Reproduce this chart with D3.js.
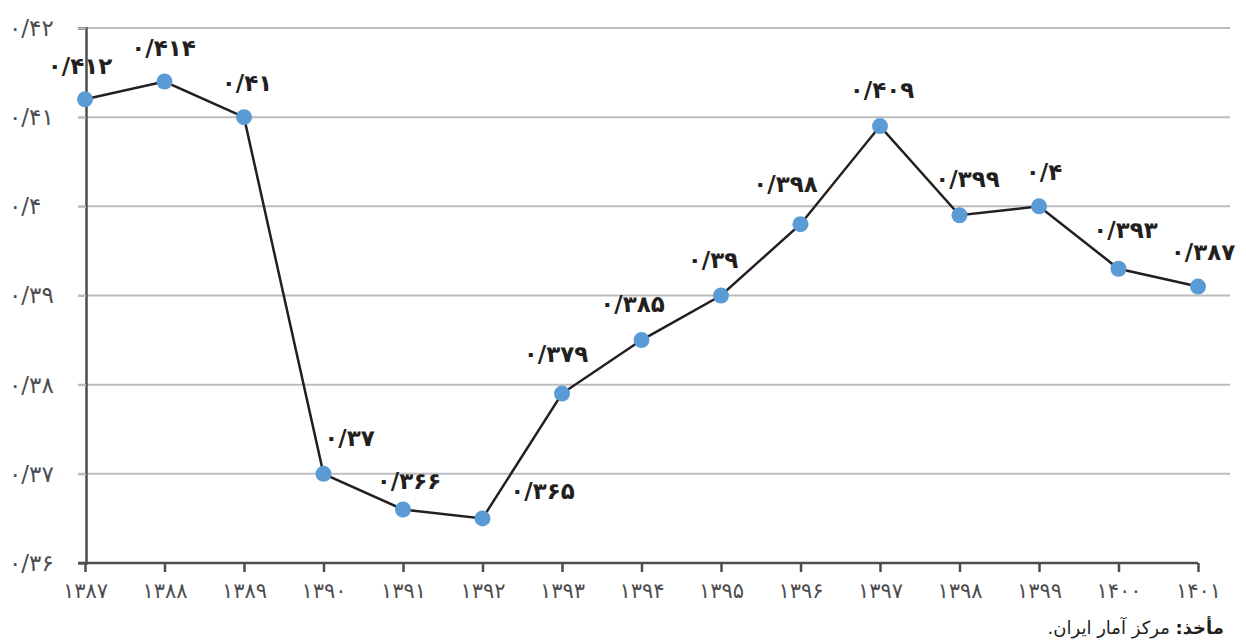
<!DOCTYPE html>
<html>
<head>
<meta charset="utf-8">
<script src="https://cdn.jsdelivr.net/npm/d3@7"></script>
<style>
  body { margin: 0; background: #fff; }
  text { font-family: "DejaVu Sans", sans-serif; }
</style>
</head>
<body>
<main></main>
<script>
// years on the x axis
const years = [1387, 1388, 1389, 1390, 1391, 1392, 1393, 1394, 1395, 1396, 1397, 1398, 1399, 1400, 1401];
// plotted values (as drawn in the picture)
const values = [0.412, 0.414, 0.41, 0.37, 0.366, 0.365, 0.379, 0.385, 0.39, 0.398, 0.409, 0.399, 0.4, 0.393, 0.391];
// printed data labels
const labels = ["0.412", "0.414", "0.41", "0.37", "0.366", "0.365", "0.379", "0.385", "0.39", "0.398", "0.409", "0.399", "0.4", "0.393", "0.387"];
const yTicks = [0.36, 0.37, 0.38, 0.39, 0.40, 0.41, 0.42];

// label offsets from each point (dx, dy)
const labelOffsets = [[-5,-32],[-1,-32],[3,-33],[26,-34],[6,-27],[60,-26],[-6,-38],[-9,-35],[-8,-34],[-15,-39],[2,-35],[8,-35],[5,-33],[7,-37],[5,-33]];

const fa = s => String(s).replace(/\d/g, d => "۰۱۲۳۴۵۶۷۸۹"[d]).replace(".", "/");
const faNum = v => fa(String(+v.toFixed(3)));

const svg = d3.select("main").append("svg")
  .attr("width", 1246).attr("height", 641);

const x = d3.scalePoint().domain(years).range([85, 1198]);
const y = d3.scaleLinear().domain([0.36, 0.42]).range([563, 28]);

// gridlines
svg.append("g").selectAll("line")
  .data(yTicks.slice(1))
  .enter().append("line")
  .attr("x1", 78).attr("x2", 1230)
  .attr("y1", d => y(d)).attr("y2", d => y(d))
  .attr("stroke", "#bdbdc0").attr("stroke-width", 2);

// y axis
const yAxis = svg.append("g").attr("transform", "translate(86,0)")
  .call(d3.axisLeft(y).tickValues(yTicks).tickSize(8).tickPadding(20).tickFormat(faNum));
yAxis.select(".domain").attr("stroke", "#4d4d4f").attr("stroke-width", 2.5);
yAxis.selectAll(".tick line").attr("stroke", "#bdbdc0").attr("stroke-width", 2);
yAxis.selectAll("text").attr("font-size", 23).attr("fill", "#4d4d4f").attr("text-anchor", "start").attr("x", -77);

// x axis
const xAxis = svg.append("g").attr("transform", "translate(0,563)")
  .call(d3.axisBottom(x).tickSizeOuter(0).tickSize(9).tickPadding(11).tickFormat(fa));
xAxis.select(".domain").attr("stroke", "#4d4d4f").attr("stroke-width", 2.5)
  .attr("d", "M78,0H1198");
xAxis.selectAll(".tick line").attr("stroke", "#4d4d4f").attr("stroke-width", 2.5);
xAxis.selectAll("text").attr("font-size", 21).attr("fill", "#4d4d4f");

// line
const line = d3.line().x((d, i) => x(years[i])).y(d => y(d));
svg.append("path").datum(values)
  .attr("d", line)
  .attr("fill", "none").attr("stroke", "#231f20").attr("stroke-width", 2.5);

// points
svg.append("g").selectAll("circle")
  .data(values)
  .enter().append("circle")
  .attr("cx", (d, i) => x(years[i]))
  .attr("cy", d => y(d))
  .attr("r", 8)
  .attr("fill", "#5b9bd5");

// data labels
svg.append("g").selectAll("text")
  .data(labels)
  .enter().append("text")
  .attr("x", (d, i) => x(years[i]) + labelOffsets[i][0])
  .attr("y", (d, i) => y(values[i]) + labelOffsets[i][1])
  .attr("text-anchor", "middle")
  .attr("dominant-baseline", "middle")
  .attr("font-size", 23).attr("font-weight", "bold").attr("fill", "#231f20")
  .text(d => fa(d));

// source
const src = svg.append("text")
  .attr("x", 1224).attr("y", 634)
  .attr("direction", "rtl").attr("text-anchor", "start")
  .attr("font-size", 18).attr("fill", "#231f20");
src.append("tspan").attr("font-weight", "bold").text("مأخذ:");
src.append("tspan").text(" مرکز آمار ایران.");
</script>
</body>
</html>
